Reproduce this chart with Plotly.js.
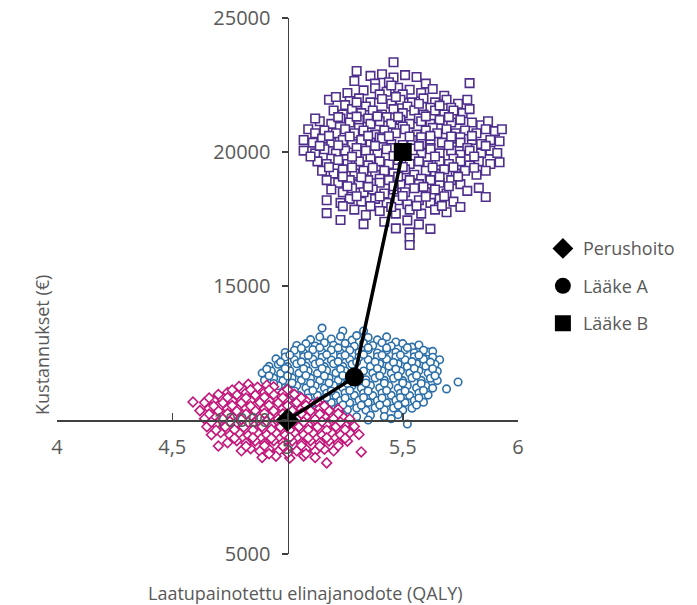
<!DOCTYPE html>
<html>
<head>
<meta charset="utf-8">
<script src="https://cdn.plot.ly/plotly-3.0.1.min.js"></script>
<style>html,body{margin:0;padding:0;background:#fff;}#chart{width:697px;height:605px;}</style>
</head>
<body>
<div id="chart"></div>
<script>
// Series names
const seriesNames = ['Perushoito', 'Lääke A', 'Lääke B'];
// Mean points (QALY, cost)
const meanQaly = [5.0, 5.29, 5.5];
const meanCost = [10000, 11600, 20000];
// Tick labels
const xTickVals = [4, 4.5, 5, 5.5, 6];
const xTickText = ['4', '4,5', '5', '5,5', '6'];
const yTickVals = [5000, 10000, 15000, 20000, 25000];
const yTickText = ['5000', '10000', '15000', '20000', '25000'];

// Simulation clouds, [QALY, cost]
const perushoitoCloud = [
[4.59,10670],[4.70,9030],[5.17,8400],[5.32,8810],
[4.79,11250],[4.83,11330],[4.87,11220],[4.91,11300],[4.94,11240],
[4.70,10950],[4.74,11030],[4.78,10940],[4.82,11020],[4.86,10930],[4.90,11030],[4.94,10950],[4.98,11020],[5.03,10960],
[4.64,10650],[4.68,10730],[4.72,10640],[4.76,10720],[4.80,10630],[4.84,10730],[4.88,10650],[4.92,10720],[4.96,10640],[5.00,10730],[5.04,10650],[5.08,10720],[5.13,10660],
[4.62,10350],[4.66,10430],[4.70,10340],[4.74,10420],[4.78,10330],[4.82,10430],[4.86,10350],[4.90,10420],[4.94,10340],[4.98,10430],[5.02,10350],[5.06,10420],[5.10,10340],[5.14,10430],[5.18,10350],[5.22,10400],
[4.64,10050],[4.68,10130],[4.72,10040],[4.76,10120],[4.80,10030],[4.84,10130],[4.88,10050],[4.92,10120],[4.96,10040],[5.04,10040],[5.08,10120],[5.12,10030],[5.16,10130],[5.20,10050],[5.24,10120],[5.27,10040],
[4.65,9750],[4.69,9830],[4.73,9740],[4.77,9820],[4.81,9730],[4.85,9830],[4.89,9750],[4.93,9820],[4.97,9740],[5.01,9830],[5.05,9750],[5.09,9820],[5.13,9740],[5.17,9830],[5.21,9750],[5.25,9820],[5.29,9760],
[4.67,9450],[4.71,9530],[4.75,9440],[4.79,9520],[4.83,9430],[4.87,9530],[4.91,9450],[4.95,9520],[4.99,9440],[5.03,9530],[5.07,9450],[5.11,9520],[5.15,9440],[5.19,9530],[5.23,9450],[5.27,9520],[5.31,9460],
[4.74,9150],[4.78,9230],[4.82,9140],[4.86,9220],[4.90,9130],[4.94,9230],[4.98,9150],[5.02,9220],[5.06,9140],[5.10,9230],[5.14,9150],[5.18,9220],[5.22,9140],[5.26,9210],
[4.80,8850],[4.84,8930],[4.88,8840],[4.92,8920],[4.96,8830],[5.00,8930],[5.04,8850],[5.08,8920],[5.12,8840],[5.16,8910],[5.20,8850],
[4.89,8600],[4.95,8650],[5.01,8580],[5.07,8660],[5.12,8600],
[4.76,11120],[4.84,11130],[4.92,11120],[5.00,11140],
[4.66,10820],[4.74,10840],[4.82,10820],[4.90,10850],[4.98,10830],[5.06,10820],
[4.68,10520],[4.76,10540],[4.84,10520],[4.92,10550],[5.00,10530],[5.08,10540],[5.16,10520],
[4.66,10220],[4.74,10240],[4.82,10220],[4.90,10250],[4.98,10230],[5.06,10240],[5.14,10220],[5.22,10240],
[4.67,9920],[4.75,9940],[4.83,9920],[4.91,9950],[5.07,9930],[5.15,9940],[5.23,9920],
[4.69,9620],[4.77,9640],[4.85,9620],[4.93,9650],[5.01,9630],[5.09,9640],[5.17,9620],[5.25,9640],
[4.77,9320],[4.85,9340],[4.93,9320],[5.01,9350],[5.09,9330],[5.17,9340],[5.25,9320],
[4.82,9020],[4.90,9040],[4.98,9020],[5.06,9050],[5.14,9030],[5.22,9040],
[4.92,8740],[5.00,8760],[5.08,8740]
];

const laakeACloud = [
[5.15,13430],[5.24,13320],[5.33,13320],[5.74,11420],[5.69,11160],[5.52,9850],[5.61,12540],[5.54,12720],[5.47,12910],
[5.10,13000],[5.14,13100],[5.19,13020],[5.23,13120],[5.28,12980],[5.35,13080],[5.39,12990],[5.43,13100],[5.30,13150],
[5.04,12780],[5.08,12850],[5.12,12760],[5.16,12880],[5.20,12790],[5.25,12860],[5.29,12750],[5.33,12870],[5.37,12780],[5.41,12880],[5.45,12760],[5.50,12850],[5.57,12800],
[4.99,12520],[5.03,12600],[5.07,12500],[5.11,12620],[5.15,12530],[5.19,12610],[5.23,12500],[5.27,12600],[5.31,12520],[5.35,12620],[5.39,12500],[5.43,12600],[5.47,12530],[5.51,12620],[5.55,12510],[5.59,12600],[5.63,12560],
[4.95,12280],[4.99,12350],[5.03,12250],[5.07,12360],[5.11,12270],[5.15,12340],[5.19,12240],[5.23,12350],[5.27,12260],[5.31,12340],[5.35,12250],[5.39,12360],[5.43,12270],[5.47,12350],[5.51,12250],[5.55,12360],[5.59,12270],[5.63,12340],[5.66,12250],
[4.92,12000],[4.96,12080],[5.00,11990],[5.04,12100],[5.08,12010],[5.12,12090],[5.16,11990],[5.20,12100],[5.24,12000],[5.28,12080],[5.36,12000],[5.40,12100],[5.44,12010],[5.48,12090],[5.52,11990],[5.56,12100],[5.60,12010],[5.64,12080],
[4.89,11750],[4.93,11830],[4.97,11740],[5.01,11840],[5.05,11750],[5.09,11830],[5.13,11740],[5.17,11850],[5.21,11760],[5.25,11830],[5.33,11830],[5.37,11750],[5.41,11840],[5.45,11740],[5.49,11830],[5.53,11750],[5.57,11840],[5.61,11750],[5.65,11820],
[4.90,11480],[4.94,11560],[4.98,11470],[5.02,11570],[5.06,11480],[5.10,11560],[5.14,11470],[5.18,11570],[5.22,11480],[5.26,11540],[5.34,11500],[5.38,11570],[5.42,11480],[5.46,11560],[5.50,11470],[5.54,11570],[5.58,11480],[5.62,11560],[5.65,11470],
[4.92,11200],[4.96,11280],[5.00,11190],[5.04,11290],[5.08,11200],[5.12,11280],[5.16,11190],[5.20,11290],[5.24,11200],[5.28,11280],[5.32,11190],[5.36,11290],[5.40,11200],[5.44,11280],[5.48,11190],[5.52,11290],[5.56,11200],[5.60,11280],[5.63,11190],
[4.97,10920],[5.01,11000],[5.05,10910],[5.09,11010],[5.13,10920],[5.17,11000],[5.21,10910],[5.25,11010],[5.29,10920],[5.33,11000],[5.37,10910],[5.41,11010],[5.45,10920],[5.49,11000],[5.53,10910],[5.57,11010],[5.61,10930],
[5.03,10650],[5.07,10730],[5.11,10640],[5.15,10740],[5.19,10650],[5.23,10730],[5.27,10640],[5.31,10740],[5.35,10650],[5.39,10730],[5.43,10640],[5.47,10740],[5.51,10650],[5.55,10730],[5.59,10660],
[5.10,10380],[5.14,10450],[5.18,10370],[5.22,10460],[5.26,10380],[5.30,10450],[5.34,10370],[5.38,10460],[5.42,10380],[5.46,10450],[5.50,10370],[5.54,10440],
[5.18,10150],[5.24,10200],[5.30,10120],[5.36,10180],[5.42,10130],[5.48,10200],[5.45,10050],[5.35,10000],
[5.06,12680],[5.14,12700],[5.22,12690],[5.35,12700],[5.43,12690],[5.52,12700],
[5.01,12430],[5.09,12410],[5.17,12440],[5.25,12420],[5.33,12440],[5.41,12420],[5.49,12430],[5.57,12420],
[4.97,12160],[5.06,12170],[5.14,12150],[5.22,12180],[5.30,12160],[5.38,12170],[5.46,12150],[5.54,12180],[5.62,12160],
[4.91,11900],[4.99,11920],[5.07,11910],[5.15,11920],[5.23,11900],[5.39,11920],[5.47,11900],[5.55,11920],[5.63,11910],
[4.92,11650],[5.00,11640],[5.08,11660],[5.16,11640],[5.24,11660],[5.40,11650],[5.48,11640],[5.56,11660],[5.64,11650],
[4.94,11360],[5.02,11380],[5.10,11370],[5.18,11380],[5.26,11360],[5.34,11380],[5.42,11370],[5.50,11380],[5.58,11360],
[5.03,11080],[5.11,11100],[5.19,11080],[5.27,11100],[5.35,11080],[5.43,11100],[5.51,11080],[5.59,11100],
[5.09,10820],[5.17,10840],[5.25,10820],[5.33,10840],[5.41,10820],[5.49,10840],[5.57,10820],
[5.16,10550],[5.24,10560],[5.32,10550],[5.40,10560],[5.48,10550],[5.56,10560]
];

const laakeBCloud = [
[5.46,23350],
[5.30,23020],[5.29,22650],[5.36,22840],[5.41,22900],[5.46,22780],[5.51,22870],[5.56,22800],[5.79,22570],[5.44,22600],[5.60,22550],[5.38,22550],
[5.33,22300],[5.38,22380],[5.43,22250],[5.48,22400],[5.53,22320],[5.58,22200],[5.63,22350],[5.40,22150],[5.50,22150],[5.68,22100],[5.26,22200],
[5.18,21950],[5.21,22050],[5.27,21900],[5.31,22000],[5.36,21850],[5.41,21980],[5.45,21800],[5.49,21950],[5.54,21850],[5.59,22000],[5.64,21850],[5.69,21950],[5.74,21800],[5.78,21950],[5.25,21750],[5.34,21700],[5.52,21700],[5.62,21650],[5.71,21650],
[5.20,21550],[5.24,21400],[5.28,21600],[5.32,21450],[5.37,21550],[5.41,21400],[5.46,21600],[5.50,21450],[5.55,21550],[5.59,21400],[5.64,21550],[5.68,21400],[5.72,21550],[5.76,21450],[5.79,21600],[5.43,21300],[5.57,21250],[5.35,21250],
[5.14,21150],[5.19,21050],[5.23,21250],[5.27,21100],[5.31,21200],[5.36,21050],[5.40,21150],[5.45,21050],[5.49,21200],[5.53,21050],[5.58,21150],[5.62,21050],[5.66,21200],[5.71,21100],[5.75,21200],[5.80,21100],[5.84,21000],[5.87,21150],[5.50,20950],[5.63,20900],[5.31,20900],[5.12,21250],
[5.09,20850],[5.12,20700],[5.16,20800],[5.21,20700],[5.25,20850],[5.29,20700],[5.33,20800],[5.38,20650],[5.42,20800],[5.47,20700],[5.51,20850],[5.56,20650],[5.60,20800],[5.65,20700],[5.69,20850],[5.73,20700],[5.77,20800],[5.82,20700],[5.86,20850],[5.90,20780],[5.93,20850],[5.40,20550],[5.58,20550],[5.75,20550],
[5.07,20450],[5.11,20350],[5.15,20500],[5.19,20350],[5.24,20450],[5.28,20300],[5.32,20450],[5.36,20350],[5.41,20500],[5.45,20300],[5.54,20450],[5.58,20300],[5.62,20450],[5.67,20350],[5.71,20500],[5.75,20350],[5.80,20450],[5.84,20300],[5.88,20450],[5.92,20400],[5.30,20150],[5.45,20150],[5.62,20150],[5.78,20150],
[5.07,20050],[5.12,19950],[5.16,20100],[5.21,19950],[5.25,20050],[5.30,19900],[5.34,20050],[5.39,19950],[5.43,20100],[5.58,19950],[5.62,20100],[5.66,19950],[5.71,20050],[5.75,19900],[5.79,20050],[5.84,19950],[5.88,20050],[5.91,19960],[5.19,19750],[5.36,19750],[5.55,19750],[5.72,19750],
[5.13,19650],[5.17,19550],[5.22,19700],[5.26,19550],[5.31,19650],[5.35,19500],[5.40,19650],[5.44,19550],[5.48,19700],[5.53,19550],[5.57,19650],[5.61,19500],[5.66,19650],[5.70,19550],[5.75,19650],[5.79,19500],[5.83,19650],[5.88,19550],[5.92,19620],
[5.15,19300],[5.20,19200],[5.24,19350],[5.29,19200],[5.33,19300],[5.38,19150],[5.42,19300],[5.46,19200],[5.51,19350],[5.55,19150],[5.60,19300],[5.64,19200],[5.68,19350],[5.73,19200],[5.77,19300],[5.82,19150],[5.86,19300],[5.40,19000],[5.58,19000],
[5.17,18950],[5.22,18850],[5.27,18950],[5.31,18800],[5.35,18950],[5.40,18850],[5.44,18950],[5.49,18800],[5.53,18950],[5.57,18800],[5.62,18950],[5.66,18850],[5.71,18950],[5.75,18800],[5.83,18660],
[5.19,18600],[5.24,18500],[5.28,18650],[5.33,18500],[5.37,18600],[5.42,18450],[5.46,18600],[5.51,18500],[5.55,18650],[5.60,18500],[5.64,18600],[5.69,18450],[5.78,18550],[5.86,18320],
[5.17,18200],[5.23,18100],[5.27,18250],[5.32,18150],[5.38,18250],[5.43,18100],[5.48,18200],[5.52,18050],[5.57,18200],[5.62,18100],[5.66,18250],[5.72,18150],
[5.17,17720],[5.29,17850],[5.34,17650],[5.40,17800],[5.47,17700],[5.53,17850],[5.58,17700],[5.64,17850],[5.69,17750],[5.75,17950],
[5.23,17460],[5.33,17310],[5.42,17400],[5.52,17450],[5.57,17300],[5.47,17150],
[5.62,17130],[5.53,17000],[5.53,16790],[5.53,16530],
[5.22,21300],[5.30,21320],[5.39,21330],[5.48,21310],[5.60,21330],[5.70,21300],
[5.18,20600],[5.27,20580],[5.35,20600],[5.44,20590],[5.53,20580],[5.62,20600],[5.71,20580],[5.80,20600],
[5.14,20230],[5.22,20250],[5.38,20230],[5.50,20260],[5.57,20220],[5.70,20250],[5.86,20230],
[5.10,19830],[5.28,19820],[5.46,19850],[5.64,19830],[5.81,19830],
[5.18,19430],[5.28,19420],[5.37,19410],[5.50,19440],[5.63,19420],[5.72,19430],[5.81,19410],
[5.24,19080],[5.32,19060],[5.48,19080],[5.66,19070],[5.74,19080],
[5.26,18720],[5.35,18700],[5.46,18720],[5.59,18700],[5.70,18720],
[5.30,18350],[5.40,18340],[5.50,18360],[5.60,18330],[5.68,18350],
[5.24,17980],[5.36,17980],[5.45,17950],[5.56,17990],[5.67,17990],
[5.30,21850],[5.47,22050],[5.57,21800],[5.45,22480],[5.66,21730]
];

const colPink = '#c2187c';
const colBlue = '#2c6fa8';
const colPurple = '#4f2f8c';
const textCol = '#595959';
const axisCol = '#404040';
const FONT = 'Open Sans, sans-serif';

function cloud(pts, symbol, size, color) {
  return {
    type: 'scatter', mode: 'markers',
    x: pts.map(p => p[0]), y: pts.map(p => p[1]),
    showlegend: false, hoverinfo: 'skip',
    marker: {symbol: symbol, size: size, color: '#ffffff', line: {color: color, width: 1.6}}
  };
}

const traces = [
  cloud(laakeACloud, 'circle', 7.5, colBlue),
  cloud(perushoitoCloud, 'diamond', 7.5, colPink),
  cloud(laakeBCloud, 'square', 8.5, colPurple),
  {type: 'scatter', mode: 'lines', x: meanQaly, y: meanCost, showlegend: false,
   line: {color: '#000', width: 3.5}, hoverinfo: 'skip'}
];
const meanSymbols = ['diamond', 'circle', 'square'];
const meanSizes = [18, 19, 18];
for (let i = 0; i < 3; i++) {
  traces.push({
    type: 'scatter', mode: 'markers', name: seriesNames[i],
    x: [meanQaly[i]], y: [meanCost[i]], legendgroup: 'g' + i,
    marker: {symbol: meanSymbols[i], size: meanSizes[i], color: '#000'}
  });
}

const layout = {
  width: 697, height: 605,
  margin: {l: 57, r: 179, t: 18, b: 51},
  paper_bgcolor: '#fff', plot_bgcolor: '#fff',
  font: {family: FONT, size: 18, color: textCol},
  showlegend: true,
  legend: {x: 1.054, y: 0.604, xanchor: 'left', yanchor: 'top',
           font: {family: FONT, size: 18, color: textCol},
           traceorder: 'grouped', tracegroupgap: 11, bgcolor: 'rgba(0,0,0,0)'},
  xaxis: {range: [4, 6], anchor: 'free', position: 0.25, showline: true,
          linecolor: axisCol, linewidth: 1.5, ticks: 'inside', ticklen: 7, tickwidth: 1.5,
          tickcolor: axisCol, tickvals: xTickVals, ticktext: xTickText, ticklabelstandoff: 8,
          showgrid: false, zeroline: false, tickfont: {family: FONT, size: 20, color: textCol}},
  yaxis: {range: [5000, 25000], anchor: 'free', position: 0.5, showline: true,
          linecolor: axisCol, linewidth: 1.5, ticks: 'outside', ticklen: 6, tickwidth: 1.5,
          tickcolor: axisCol, tickvals: yTickVals, ticktext: yTickText, ticklabelstandoff: 7,
          showgrid: false, zeroline: false, tickfont: {family: FONT, size: 20, color: textCol}},
  annotations: [
    {xref: 'paper', yref: 'paper', x: 0.54, y: -0.073, text: 'Laatupainotettu elinajanodote (QALY)',
     showarrow: false, font: {family: FONT, size: 18, color: textCol}, xanchor: 'center', yanchor: 'middle'},
    {xref: 'paper', yref: 'paper', x: -0.0325, y: 0.39, text: 'Kustannukset (€)', textangle: -90,
     showarrow: false, font: {family: FONT, size: 18, color: textCol}, xanchor: 'center', yanchor: 'middle'}
  ]
};

Plotly.newPlot('chart', traces, layout, {displayModeBar: false, staticPlot: true});
</script>
</body>
</html>
